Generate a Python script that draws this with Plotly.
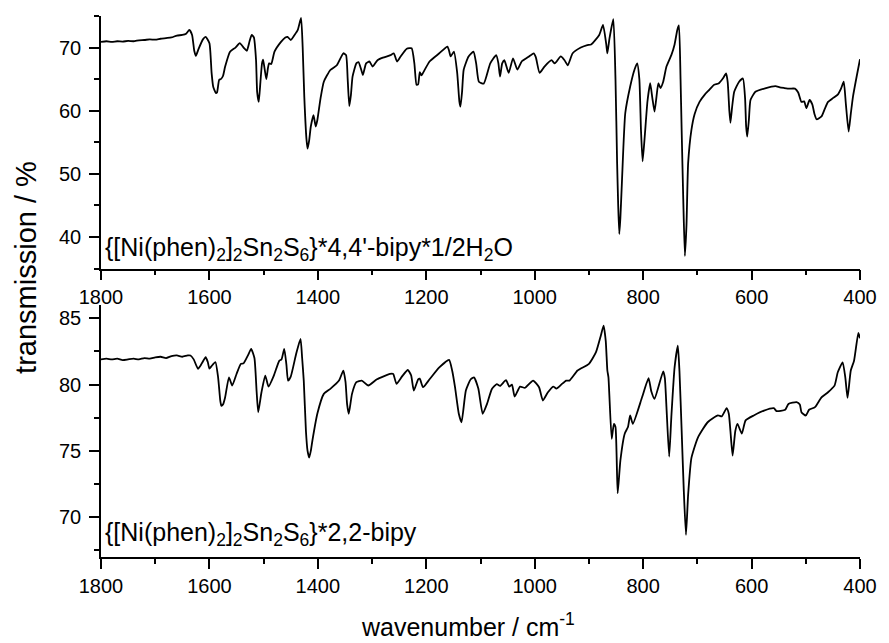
import plotly.graph_objects as go

# IR spectrum of {[Ni(phen)2]2Sn2S6}*4,4'-bipy*1/2H2O (wavenumber in cm-1, transmission in %)
top_wn = [1800, 1790, 1780, 1770, 1760, 1750, 1740, 1730, 1720, 1710, 1700, 1690, 1680, 1670,
          1660, 1650, 1643, 1637, 1632, 1628, 1625, 1620, 1612, 1607, 1600, 1596, 1593, 1588,
          1586, 1582, 1579, 1575, 1571, 1562, 1552, 1544, 1537, 1531, 1526, 1522, 1518, 1514,
          1512, 1509, 1506, 1503, 1501, 1498, 1495, 1492, 1490, 1486, 1480, 1468, 1460, 1456,
          1450, 1443, 1437, 1431, 1428, 1425, 1421, 1419, 1416, 1413, 1408, 1404, 1401, 1395,
          1389, 1377, 1365, 1353, 1348, 1345, 1342, 1339, 1336, 1329, 1325, 1320, 1317, 1311,
          1305, 1299, 1290, 1280, 1266, 1260, 1254, 1248, 1236, 1227, 1222, 1218, 1215, 1212,
          1209, 1206, 1194, 1176, 1161, 1158, 1155, 1149, 1143, 1139, 1137, 1134, 1131, 1122,
          1113, 1108, 1103, 1094, 1082, 1071, 1067, 1064, 1060, 1056, 1048, 1040, 1032, 1024,
          1012, 1002, 998, 991, 982, 969, 963, 952, 945, 939, 930, 915, 903, 896, 881, 874,
          868, 866, 862, 855, 851, 848, 846, 844, 842, 839, 833, 824, 816, 811, 807, 804, 801,
          797, 792, 787, 783, 779, 775, 772, 768, 763, 757, 748, 742, 737, 734, 731, 729, 726,
          723, 720, 717, 711, 705, 696, 686, 678, 669, 661, 653, 647, 644, 641, 639, 636, 632,
          623, 616, 612, 610, 608, 605, 602, 593, 575, 556, 548, 540, 530, 520, 514, 508, 503,
          499, 493, 488, 484, 480, 471, 465, 459, 450, 441, 435, 430, 426, 421, 417, 413, 406,
          400]
top_T = [70.9, 71.0, 70.9, 71.0, 70.95, 71.05, 71.0, 71.15, 71.2, 71.3, 71.25, 71.4, 71.5, 71.6,
         71.9, 72.0, 72.2, 72.8, 72.0, 69.5, 68.7, 69.8, 71.3, 71.7, 70.7, 66.0, 63.8, 62.8,
         62.9, 64.9, 65.0, 65.5, 67.0, 69.35, 70.0, 70.7, 70.0, 69.5, 71.0, 72.0, 71.6, 68.0,
         63.0, 61.4, 64.5, 67.5, 68.1, 66.5, 65.0, 66.8, 67.5, 67.4, 69.35, 70.9, 71.6, 71.7,
         71.2, 72.0, 72.8, 74.7, 70.0, 62.2, 55.5, 54.0, 55.3, 57.5, 59.3, 57.5, 58.5, 62.0,
         64.6, 66.45, 67.2, 69.1, 68.8, 65.0, 60.75, 62.5, 65.4, 67.5, 67.7, 66.5, 65.66, 67.5,
         67.8, 67.0, 68.0, 68.4, 68.8, 69.1, 67.8, 68.5, 69.8, 69.9, 67.5, 64.1, 64.2, 66.1,
         65.6, 66.0, 67.8, 69.1, 70.15, 69.5, 68.6, 69.35, 66.0, 61.5, 60.65, 63.0, 66.5, 68.6,
         69.35, 67.5, 64.6, 64.3, 67.5, 68.8, 67.5, 65.4, 67.5, 68.0, 66.0, 68.3, 66.5, 67.8,
         68.5, 69.1, 68.5, 66.0, 67.0, 68.0, 67.5, 68.6, 68.0, 67.2, 69.1, 70.0, 70.4, 70.5, 72.0, 73.6,
         70.5, 69.1, 71.5, 74.5, 65.0, 51.7, 45.0, 40.5, 43.0, 49.0, 59.6, 63.8, 66.5, 67.5, 65.0, 57.0, 52.0,
         56.0, 61.5, 64.35, 62.0, 59.85, 62.5, 64.35, 63.6, 64.6, 67.0, 68.8, 70.5, 72.8, 73.5, 65.0, 57.0, 46.0,
         37.0, 42.0, 51.7, 56.95, 59.5, 61.4, 62.6, 63.3, 64.1, 64.3, 65.1, 65.9, 64.5, 60.0, 58.1, 60.5, 63.0,
         64.6, 65.1, 62.0, 57.5, 55.9, 58.5, 61.7, 63.0, 63.55, 63.9, 63.7, 63.6, 63.5, 63.5, 62.9, 61.4, 61.5,
         60.4, 61.7, 61.0, 59.5, 58.65, 59.1, 60.3, 61.4, 62.0, 62.55, 63.5, 64.6, 61.0, 56.7, 59.5, 62.2, 65.5,
         68.15]

# IR spectrum of {[Ni(phen)2]2Sn2S6}*2,2-bipy
bot_wn = [1800, 1790, 1780, 1770, 1760, 1750, 1740, 1730, 1720, 1710, 1700, 1690, 1680, 1670,
          1660, 1650, 1640, 1635, 1629, 1621, 1614, 1607, 1603, 1600, 1596, 1589, 1584, 1580,
          1578, 1575, 1571, 1564, 1558, 1550, 1542, 1537, 1529, 1523, 1517, 1513, 1510, 1504,
          1497, 1491, 1481, 1471, 1467, 1462, 1458, 1455, 1450, 1440, 1432, 1429, 1426, 1422,
          1419, 1416, 1413, 1410, 1401, 1389, 1377, 1361, 1353, 1349, 1346, 1343, 1337, 1329,
          1319, 1307, 1291, 1267, 1261, 1255, 1245, 1234, 1228, 1223, 1215, 1212, 1206, 1194,
          1176, 1158, 1152, 1147, 1140, 1135, 1127, 1118, 1112, 1104, 1096, 1088, 1079, 1070,
          1064, 1053, 1047, 1042, 1037, 1027, 1018, 1003, 992, 985, 976, 966, 960, 951, 942,
          936, 921, 900, 887, 878, 873, 869, 866, 864, 858, 854, 851, 847, 842, 834, 828, 824,
          819, 802, 790, 785, 779, 763, 760, 757, 752, 748, 742, 736, 733, 729, 725, 721, 717,
          711, 699, 681, 662, 655, 646, 642, 639, 635, 630, 626, 618, 611, 596, 577, 559, 554,
          538, 532, 517, 511, 508, 500, 494, 483, 471, 459, 447, 441, 432, 427, 423, 417, 411,
          403, 400]
bot_T = [81.9, 81.95, 81.9, 81.95, 81.85, 81.9, 81.95, 81.9, 82.0, 81.95, 82.05, 82.1, 82.0, 82.15,
         82.2, 82.1, 82.2, 82.19, 81.9, 81.19, 81.6, 82.06, 81.7, 81.2, 81.4, 81.7, 80.55, 78.8,
         78.4, 78.5, 79.05, 80.55, 79.93, 80.8, 81.56, 81.6, 82.2, 82.69, 82.0, 79.5, 77.91, 79.42,
         80.68, 79.85, 80.7, 81.81, 81.9, 82.69, 81.5, 80.3, 80.6, 82.32, 83.45, 82.0, 80.3, 76.5,
         75.0, 74.5, 75.0, 75.8, 77.8, 79.3, 79.68, 80.3, 81.06, 80.2, 78.5, 77.8, 79.3, 80.18,
         80.3, 79.93, 80.4, 80.8, 80.8, 80.06, 80.6, 81.1, 80.7, 79.55, 80.4, 80.45, 79.8, 80.4,
         81.3, 81.86, 81.0, 79.8, 77.8, 77.16, 79.55, 80.4, 80.55, 79.7, 77.8, 78.54, 79.67, 80.04,
         79.9, 80.34, 79.85, 80.0, 79.1, 79.85, 79.75, 80.3, 79.8, 78.8, 79.4, 79.85, 79.7, 80.0, 80.3,
         80.3, 81.06, 81.56, 82.44, 83.7, 84.45, 83.3, 81.06, 80.55, 75.9, 77.04, 76.8, 71.81, 74.27, 76.3, 76.8, 77.67,
         77.04, 79.04, 80.48, 79.5, 78.92, 81.0, 80.5, 78.3, 74.57, 77.55, 81.3, 82.94, 81.0, 76.55, 72.0, 68.67, 71.7,
         74.45, 76.0, 77.16, 77.67, 77.6, 78.22, 77.8, 76.5, 74.65, 76.5, 77.04, 76.3, 77.3, 77.67, 78.04, 78.22, 78.0,
         78.1, 78.54, 78.67, 78.5, 77.92, 77.67, 78.1, 78.3, 79.04, 79.42, 79.92, 80.93, 81.68, 80.5, 78.99, 81.06, 81.8,
         83.9, 83.5]

x_ticks = [1800, 1600, 1400, 1200, 1000, 800, 600, 400]
top_label = "{[Ni(phen)<sub>2</sub>]<sub>2</sub>Sn<sub>2</sub>S<sub>6</sub>}*4,4'-bipy*1/2H<sub>2</sub>O"
bot_label = "{[Ni(phen)<sub>2</sub>]<sub>2</sub>Sn<sub>2</sub>S<sub>6</sub>}*2,2-bipy"

FONT = "Liberation Sans, Arial, sans-serif"

fig = go.Figure()
fig.add_trace(go.Scatter(x=top_wn, y=top_T, mode="lines", xaxis="x", yaxis="y",
                         line=dict(color="black", width=1.8, shape="spline", smoothing=0.5),
                         showlegend=False))
fig.add_trace(go.Scatter(x=bot_wn, y=bot_T, mode="lines", xaxis="x2", yaxis="y2",
                         line=dict(color="black", width=1.8, shape="spline", smoothing=0.5),
                         showlegend=False))

axis_style = dict(showline=True, linecolor="black", linewidth=1.6, mirror=False,
                  ticks="outside", ticklen=10, tickwidth=1.6, tickcolor="black",
                  showgrid=False, zeroline=False,
                  tickfont=dict(family=FONT, size=20, color="black"))

xa = dict(axis_style, range=[1800, 400], autorange=False, tickvals=x_ticks,
          minor=dict(ticks="outside", ticklen=5, tickwidth=1.6, tickcolor="black",
                     dtick=100, tick0=0, showgrid=False))

fig.update_layout(
    width=889, height=643,
    margin=dict(l=101, r=20, t=16, b=86),
    paper_bgcolor="white", plot_bgcolor="white",
    font=dict(family=FONT, color="black"),
    xaxis=dict(xa, domain=[0, 1], anchor="y"),
    yaxis=dict(axis_style, domain=[0.533, 1], anchor="x", range=[35, 75],
               tick0=0, dtick=10, ticklabelstandoff=4,
               minor=dict(ticks="outside", ticklen=5, tickwidth=1.6, tickcolor="black",
                          dtick=5, tick0=0, showgrid=False)),
    xaxis2=dict(xa, domain=[0, 1], anchor="y2"),
    yaxis2=dict(axis_style, domain=[0, 0.4658], anchor="x2", range=[67, 86],
                tick0=0, dtick=5, ticklabelstandoff=4,
                minor=dict(ticks="outside", ticklen=5, tickwidth=1.6, tickcolor="black",
                           dtick=2.5, tick0=0, showgrid=False)),
)

fig.add_annotation(text=top_label, xref="x", yref="y", x=1797, y=38.1,
                   xanchor="left", yanchor="middle", showarrow=False,
                   font=dict(family=FONT, size=25, color="black"))
fig.add_annotation(text=bot_label, xref="x2", yref="y2", x=1797, y=68.77,
                   xanchor="left", yanchor="middle", showarrow=False,
                   font=dict(family=FONT, size=25, color="black"))

fig.add_annotation(text="transmission / %", xref="paper", yref="paper",
                   x=-0.099, y=0.536, textangle=-90, xanchor="center", yanchor="middle",
                   showarrow=False, font=dict(family=FONT, size=29, color="black"))
fig.add_annotation(text="wavenumber / cm<sup>-1</sup>", xref="paper", yref="paper",
                   x=0.484, y=-0.125, xanchor="center", yanchor="middle",
                   showarrow=False, font=dict(family=FONT, size=25, color="black"))

fig.write_html("out.html")
